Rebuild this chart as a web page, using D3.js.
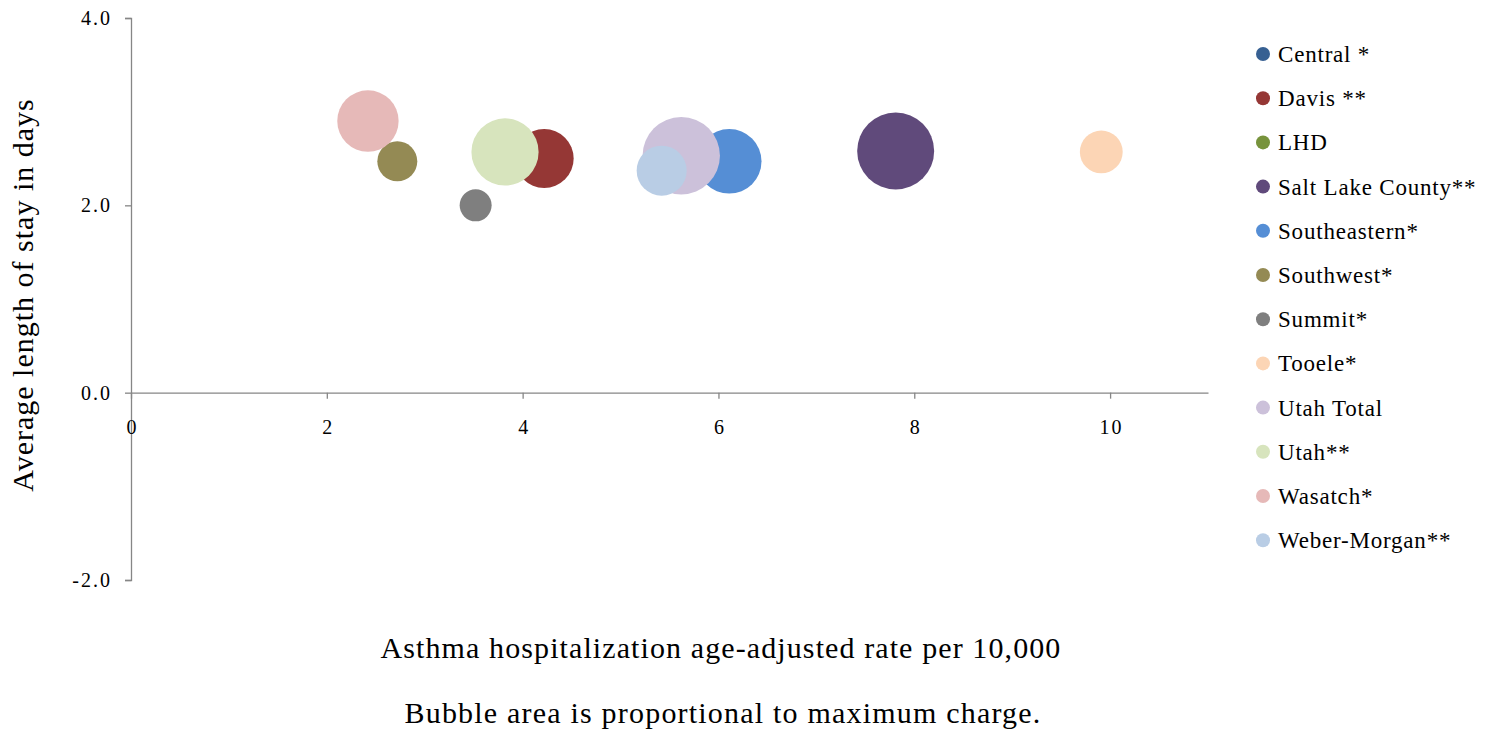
<!DOCTYPE html>
<html>
<head>
<meta charset="utf-8">
<script src="https://cdn.jsdelivr.net/npm/d3@7"></script>
<style>
  html, body { margin: 0; padding: 0; background: #fff; }
  svg { display: block; }
  text { font-family: "Liberation Serif", "DejaVu Serif", serif; fill: #000; }
</style>
</head>
<body>
<svg id="chart" width="1494" height="730"></svg>
<script>
// ---- Data ----
const regions = ["Central *", "Davis **", "LHD", "Salt Lake County**", "Southeastern*", "Southwest*",
                 "Summit*", "Tooele*", "Utah Total", "Utah**", "Wasatch*", "Weber-Morgan**"];
// Asthma hospitalization age-adjusted rate per 10,000 (x)
const rates = [null, 4.22, null, 7.81, 6.11, 2.72, 3.52, 9.91, 5.62, 3.82, 2.42, 5.42];
// Average length of stay in days (y)
const stays = [null, 2.50, null, 2.58, 2.47, 2.47, 2.00, 2.57, 2.53, 2.57, 2.90, 2.37];
// Maximum charge (bubble area)
const charges = [null, 87100, null, 148400, 104400, 40000, 25600, 45900, 150000, 113000, 94300, 62600];
const colors = ["#376092", "#953735", "#77933c", "#604a7b", "#558ed5", "#948a54",
                "#7f7f7f", "#fcd5b5", "#ccc1da", "#d7e4bd", "#e6b9b8", "#b9cde5"];
const xTicks = [0, 2, 4, 6, 8, 10];
const yTicks = [-2, 0, 2, 4];

// ---- Layout ----
const svg = d3.select("#chart");
const plot = { left: 131, right: 1208, top: 18, bottom: 580 };
const x = d3.scaleLinear().domain([0, 11]).range([plot.left, plot.right]);
const y = d3.scaleLinear().domain([-2, 4]).range([plot.bottom, plot.top]);
const r = d3.scaleSqrt().domain([0, 150000]).range([0, 38.7]);
const axisColor = "#868686";

// Y axis
const yAxis = svg.append("g")
  .attr("transform", `translate(${x(0)},0)`)
  .call(d3.axisLeft(y).tickValues(yTicks).tickFormat(d => d.toFixed(1)).tickSize(6).tickPadding(13));
yAxis.attr("font-size", 20).attr("font-family", null);
yAxis.select(".domain").attr("stroke", axisColor).attr("stroke-width", 1.3);
yAxis.selectAll(".tick line").attr("stroke", axisColor).attr("stroke-width", 1.3);
yAxis.selectAll(".tick text").style("letter-spacing", "2px").attr("fill", "#000");

// X axis (at y = 0)
const xAxis = svg.append("g")
  .attr("transform", `translate(0,${y(0)})`)
  .call(d3.axisBottom(x).tickValues(xTicks).tickFormat(d => String(d)).tickSize(6).tickSizeOuter(0).tickPadding(21));
xAxis.attr("font-size", 20).attr("font-family", null);
xAxis.select(".domain").attr("stroke", axisColor).attr("stroke-width", 1.3);
xAxis.selectAll(".tick line").attr("stroke", axisColor).attr("stroke-width", 1.3);
xAxis.selectAll(".tick text").style("letter-spacing", "2px").attr("dx", "1px").attr("fill", "#000");

// Bubbles
const data = regions.map((name, i) => ({ name, x: rates[i], y: stays[i], c: charges[i], color: colors[i] }))
  .filter(d => d.x != null);
svg.append("g").selectAll("circle").data(data).join("circle")
  .attr("cx", d => x(d.x))
  .attr("cy", d => y(d.y))
  .attr("r", d => r(d.c))
  .attr("fill", d => d.color);

// Axis titles
svg.append("text")
  .attr("transform", `translate(33,295) rotate(-90)`)
  .attr("text-anchor", "middle")
  .style("font-size", "30px")
  .style("letter-spacing", "1px")
  .text("Average length of stay in days");

svg.append("text")
  .attr("x", 721).attr("y", 658)
  .attr("text-anchor", "middle")
  .style("font-size", "30px")
  .style("letter-spacing", "1.1px")
  .text("Asthma hospitalization age-adjusted rate per 10,000");

svg.append("text")
  .attr("x", 723).attr("y", 723)
  .attr("text-anchor", "middle")
  .style("font-size", "30px")
  .style("letter-spacing", "1.2px")
  .text("Bubble area is proportional to maximum charge.");

// Legend
const legend = svg.append("g").attr("transform", "translate(1263,54)");
const rows = legend.selectAll("g").data(regions).join("g")
  .attr("transform", (d, i) => `translate(0,${i * 44.2})`);
rows.append("circle").attr("r", 7).attr("fill", (d, i) => colors[i]);
rows.append("text").attr("x", 15).attr("y", 8)
  .style("font-size", "23px")
  .style("letter-spacing", "0.8px")
  .text(d => d);
</script>
</body>
</html>
